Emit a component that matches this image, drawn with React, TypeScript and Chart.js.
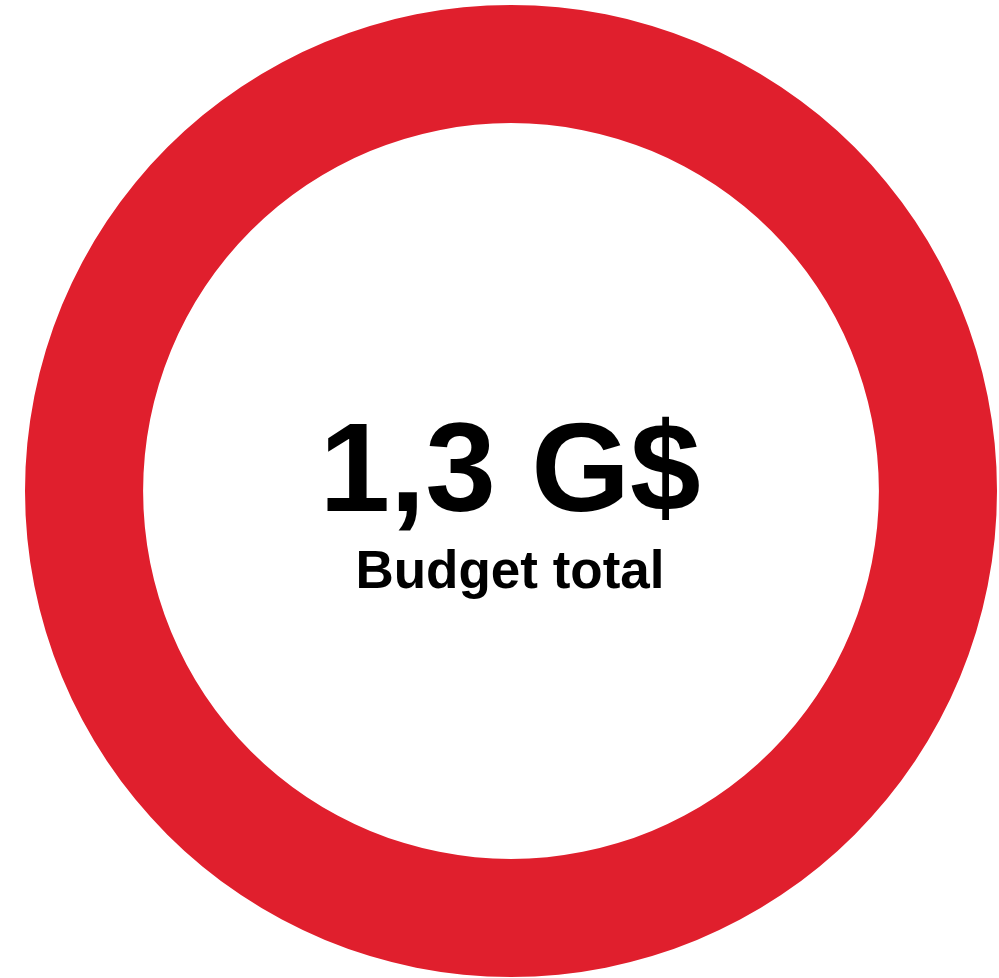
import React, { useEffect, useRef } from "react";
import { Chart, registerables } from "chart.js";

Chart.register(...registerables);

const labels = ["Budget total"];
const values = [1.3];
const mainLabel = "1,3 G$";
const subLabel = "Budget total";
const ringColor = "#E01F2D";

const centerText = {
  id: "centerText",
  afterDraw(chart: any) {
    const { ctx, chartArea } = chart;
    const cx = (chartArea.left + chartArea.right) / 2;
    ctx.save();
    ctx.fillStyle = "#000";
    ctx.textAlign = "center";
    ctx.textBaseline = "alphabetic";
    ctx.font = "bold 127px 'Liberation Sans', Arial, sans-serif";
    ctx.fillText(mainLabel, cx - 1, 511);
    ctx.font = "bold 53px 'Liberation Sans', Arial, sans-serif";
    ctx.fillText(subLabel, cx - 1, 588);
    ctx.restore();
  },
};

export default function App() {
  const ref = useRef<HTMLCanvasElement>(null);
  useEffect(() => {
    if (!ref.current) return;
    const chart = new Chart(ref.current, {
      type: "doughnut",
      data: {
        labels,
        datasets: [
          {
            data: values,
            backgroundColor: [ringColor],
            borderWidth: 0,
          },
        ],
      },
      options: {
        responsive: false,
        animation: false,
        cutout: "75.7%",
        layout: { padding: { left: 25, right: 2, top: 5, bottom: 1 } },
        plugins: {
          legend: { display: false },
          tooltip: { enabled: false },
        },
      },
      plugins: [centerText],
    });
    return () => chart.destroy();
  }, []);
  return (
    <div style={{ position: "fixed", left: 0, top: 0, width: 999, height: 978, background: "#fff" }}>
      <canvas ref={ref} width={999} height={978} style={{ width: 999, height: 978, display: "block" }} />
    </div>
  );
}
